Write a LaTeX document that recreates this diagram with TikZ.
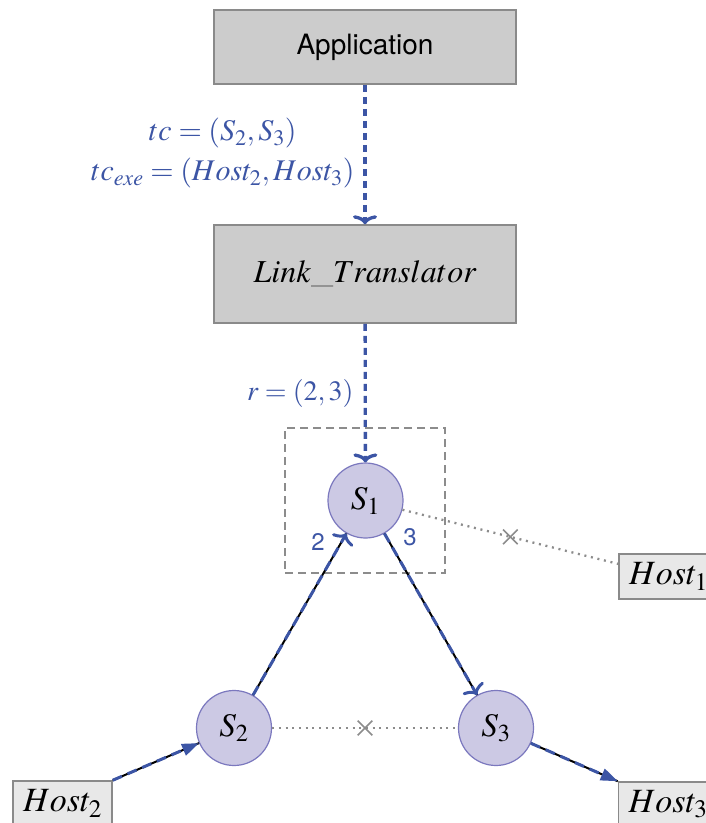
\documentclass[tikz,border=0pt]{standalone}
\usepackage{mathptmx}
\usepackage{fontspec}
\setsansfont{TeX Gyre Heros}
\usetikzlibrary{arrows.meta,shapes.misc}
\definecolor{eblue}{HTML}{3C55A5}
\definecolor{boxfill}{HTML}{CCCCCC}
\definecolor{boxdraw}{HTML}{8A8A8A}
\definecolor{hostfill}{HTML}{E8E8E8}
\definecolor{swfill}{HTML}{CCC9E4}
\definecolor{swdraw}{HTML}{7B78BE}
\definecolor{dotgray}{HTML}{8C8C8C}
\tikzset{
  bigbox/.style={rectangle, fill=boxfill, draw=boxdraw, line width=1.5pt, minimum width=302pt, inner sep=0pt},
  hostbox/.style={rectangle, fill=hostfill, draw=boxdraw, line width=1.5pt, minimum width=99pt, minimum height=45pt, inner sep=0pt, font=\fontsize{34}{36}\selectfont},
  switch/.style={circle, fill=swfill, draw=swdraw, line width=1.2pt, minimum size=75pt, inner sep=0pt, font=\fontsize{33}{36}\selectfont},
  ctrlarrow/.style={eblue, line width=3.3pt, dash pattern=on 7pt off 5pt, -{Computer Modern Rightarrow[length=9pt,width=24pt]}},
  blackline/.style={black, line width=2pt},
  bluedash/.style={eblue, line width=3pt, dash pattern=on 10pt off 6pt},
  cmtip/.style={-{Computer Modern Rightarrow[length=9pt,width=24pt]}},
  tritip/.style={-{Triangle[length=17pt,width=12pt]}},
  deadlink/.style={dotgray, line width=2.3pt, dash pattern=on 2pt off 4.7pt},
  xmark/.style={cross out, draw=dotgray, solid, line width=1.6pt, minimum size=13pt, inner sep=0pt},
  lbl/.style={eblue, font=\fontsize{30}{40}\selectfont},
  portlbl/.style={eblue, font=\sffamily\fontsize{24}{26}\selectfont},
}
\begin{document}
\begin{tikzpicture}[x=1pt,y=-1pt]
\useasboundingbox (0,0) rectangle (706,823);
\node[bigbox, minimum height=74pt, font=\sffamily\fontsize{28}{30}\selectfont] (app) at (365,47) {Application};
\node[bigbox, minimum height=98pt, font=\fontsize{32}{34}\selectfont] (lt) at (365,274) {$Link\_Translator$};
\node[switch] (s1) at (365.5,500.5) {$S_1$};
\node[switch] (s2) at (234,728) {$S_2$};
\node[switch] (s3) at (496,728) {$S_3$};
\node[hostbox] (h1) at (668.5,576.5) {$Host_1$};
\node[hostbox] (h2) at (62.5,803.5) {$Host_2$};
\node[hostbox] (h3) at (668,804.5) {$Host_3$};
\node[draw=dotgray, line width=2pt, dash pattern=on 8pt off 5pt, minimum width=160pt, minimum height=145pt, inner sep=0pt] (grp) at (365,500.5) {};
% control arrows
\draw[ctrlarrow] (app) -- (lt);
\draw[ctrlarrow] (lt) -- (s1);
\node[lbl, align=center, anchor=east] (tclbl) at (358,153) {$tc=(S_2,S_3)$\\$tc_{exe}=(Host_2,Host_3)$};
\node[lbl, anchor=east, font=\fontsize{28}{30}\selectfont] (rlbl) at (357,393) {$r=(2,3)$};
% dead links
\draw[deadlink] (s1) -- (h1) node[xmark, pos=0.5] (x1) {};
\draw[deadlink] (s2) -- (s3) node[xmark, pos=0.5] (x2) {};
% path edges
\draw[blackline] (s2) -- (s1);
\draw[bluedash, cmtip] (s2) -- (s1);
\draw[blackline] (s1) -- (s3);
\draw[bluedash, cmtip] (s1) -- (s3);
\draw[blackline] (h2.north east) -- (s2);
\draw[bluedash, tritip] (h2.north east) -- (s2);
\draw[blackline] (s3) -- (h3.north west);
\draw[bluedash, tritip] (s3) -- (h3.north west);
\node[portlbl] (p2) at (318,542) {2};
\node[portlbl] (p3) at (410,537) {3};
\end{tikzpicture}
\end{document}
